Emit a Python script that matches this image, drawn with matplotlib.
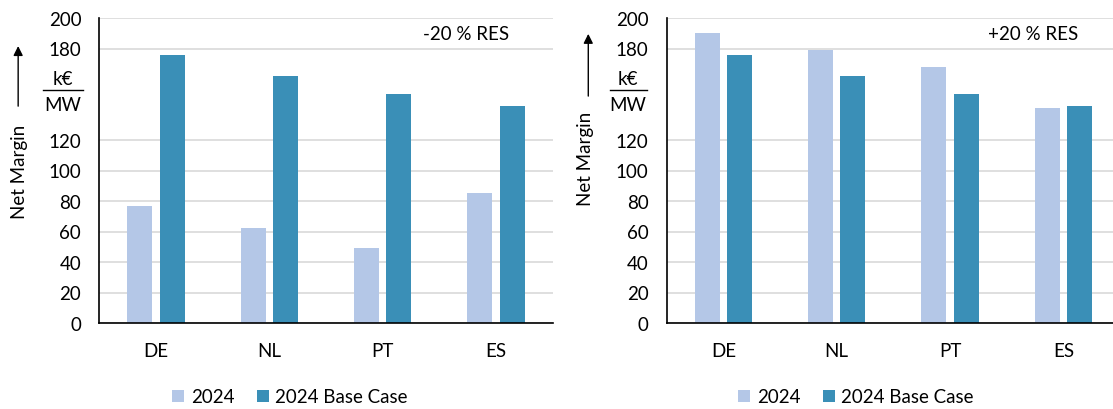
import matplotlib
matplotlib.use("Agg")
import matplotlib.pyplot as plt
import numpy as np

# net margin per country, k€/MW
countries = ["DE", "NL", "PT", "ES"]
base_case = [176, 162, 150, 142]
res_minus20 = [77, 62, 49, 85]
res_plus20 = [190, 179, 168, 141]

series_labels = ["2024", "2024 Base Case"]
panel_titles = ["-20 % RES", "+20 % RES"]

yticks = [0, 20, 40, 60, 80, 100, 120, 180, 200]

c_light = "#b4c7e7"
c_dark = "#3a8fb7"

plt.rcParams["font.family"] = ["Lato", "DejaVu Sans"]
plt.rcParams["font.size"] = 13.5

fig = plt.figure(figsize=(11.13, 4.1), dpi=100)

W, H = 1113, 410
ax_w = 453.3 / W
ax_h = 305 / H
ax_b = 1 - 324 / H

panels = [
    dict(left=99.3, data=res_minus20, legend_x=290,
         arrow_x=-0.179, arrow_y=(0.711, 0.908), lab_x=-0.177, lab_y=0.498,
         frac_x=-0.080, frac_line=(-0.124, -0.036)),
    dict(left=666.7, data=res_plus20, legend_x=856,
         arrow_x=-0.173, arrow_y=(0.744, 0.948), lab_x=-0.180, lab_y=0.541,
         frac_x=-0.085, frac_line=(-0.125, -0.043)),
]

x = np.arange(len(countries))
bw = 0.22
off = 0.143

for p, title in zip(panels, panel_titles):
    ax = fig.add_axes([p["left"] / W, ax_b, ax_w, ax_h])
    b1 = ax.bar(x - off, p["data"], bw, color=c_light, label=series_labels[0])
    b2 = ax.bar(x + off, base_case, bw, color=c_dark, label=series_labels[1])

    ax.set_xlim(-0.5, 3.5)
    ax.set_ylim(0, 200)
    ax.set_yticks(yticks)
    ax.set_yticklabels([str(v) for v in yticks])
    ax.set_xticks(x)
    ax.set_xticklabels(countries)
    ax.tick_params(axis="y", length=0, pad=13)
    ax.tick_params(axis="x", length=0, pad=14)

    ax.grid(axis="y", color="#d9d9d9", lw=1.2)
    ax.set_axisbelow(True)
    for s in ["top", "right"]:
        ax.spines[s].set_visible(False)
    for s in ["left", "bottom"]:
        ax.spines[s].set_color("black")
        ax.spines[s].set_linewidth(1.2)

    # unit written as a fraction in place of the 160/140 tick labels
    tr = ax.get_yaxis_transform()
    ax.text(p["frac_x"], 160, "k€", transform=tr, ha="center", va="center")
    ax.text(p["frac_x"], 143, "MW", transform=tr, ha="center", va="center")
    ax.plot(p["frac_line"], [153, 153], transform=tr, color="black", lw=1,
            clip_on=False)

    # y label with arrow
    ax.text(p["lab_x"], p["lab_y"], "Net Margin", transform=ax.transAxes,
            rotation=90, ha="center", va="center")
    ax.annotate("", xy=(p["arrow_x"], p["arrow_y"][1]),
                xytext=(p["arrow_x"], p["arrow_y"][0]),
                xycoords="axes fraction", annotation_clip=False,
                arrowprops=dict(arrowstyle="-|>", color="black", lw=1,
                                mutation_scale=14, shrinkA=0, shrinkB=0))

    ax.text(0.808, 0.95, title, transform=ax.transAxes, ha="center",
            va="center")

    fig.legend(handles=[b1, b2], loc="center",
               bbox_to_anchor=(p["legend_x"] / W, 1 - 398 / H), ncol=2,
               frameon=False, handlelength=0.64, handleheight=0.64,
               handletextpad=0.35, columnspacing=1.2, borderpad=0)

fig.savefig("out.png", dpi=100)
